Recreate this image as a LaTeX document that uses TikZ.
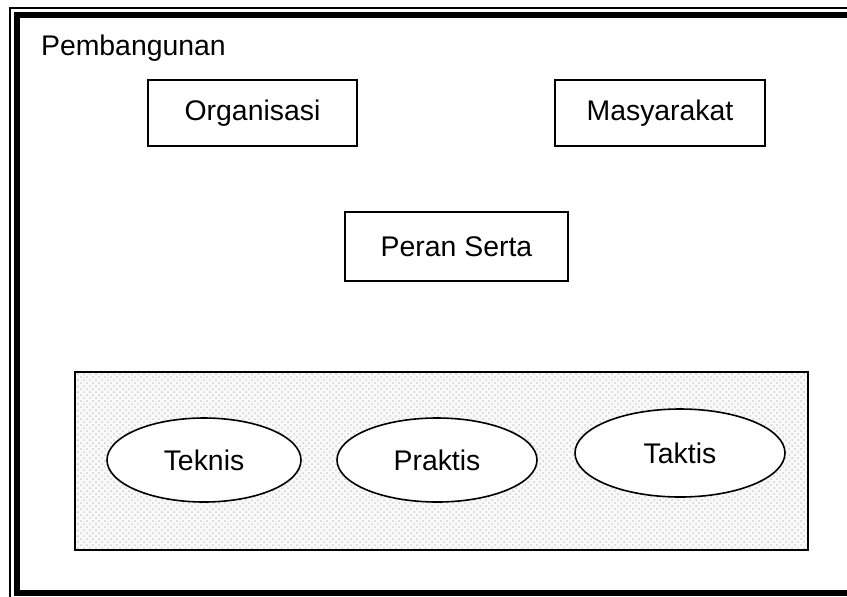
\documentclass[tikz,border=0pt]{standalone}
\usepackage{fontspec}
\setmainfont{Liberation Sans}
\usetikzlibrary{positioning,shapes.geometric,patterns}
\definecolor{titikabu}{RGB}{208,208,208}
\definecolor{dasarabu}{RGB}{249,249,249}
\tikzset{
  kotak/.style={draw,line width=0.8pt,minimum width=104.5pt,minimum height=33pt,inner sep=0pt},
  elips/.style={ellipse,draw,fill=white,line width=0.8pt,inner sep=0pt},
  teks/.style={font=\fontsize{14.2}{17}\selectfont}
}
\begin{document}
\begin{tikzpicture}[x=0.5pt,y=-0.5pt,every node/.style={teks}]
    \clip (0,0) rectangle (847,596);\useasboundingbox (0,0) rectangle (847,596);
    % bingkai luar
    \draw[line width=1pt] (10,7.5) rectangle (880,640);
    \draw[line width=3pt] (17,15) rectangle (870,593);
    \node[anchor=west] (judul) at (34,48) {Pembangunan};
    \node[kotak,minimum width=104.5pt] (org) at (252.5,113) {Organisasi};
    \node[kotak,minimum width=105pt] (masy) at (660,113) {Masyarakat};
    \node[kotak,minimum width=111.5pt,minimum height=34.5pt] (peran) at (456.5,246.5) {Peran Serta};
    % kotak bertitik
    \fill[dasarabu] (75,372) rectangle (808,550);
    \fill[pattern=crosshatch dots,pattern color=titikabu] (75,372) rectangle (808,550);
    \draw[line width=0.8pt] (75,372) rectangle (808,550);
    \node[elips,minimum width=97pt,minimum height=42pt] (teknis) at (204,460) {Teknis};
    \node[elips,minimum width=100pt,minimum height=42pt] (praktis) at (437,460) {Praktis};
    \node[elips,minimum width=105pt,minimum height=44pt] (taktis) at (680,453) {Taktis};
  \end{tikzpicture}
\end{document}
